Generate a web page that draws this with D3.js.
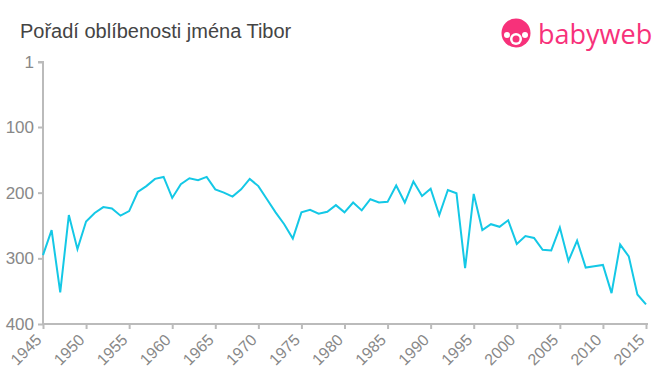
<!DOCTYPE html>
<html>
<head>
<meta charset="utf-8">
<script src="https://cdn.jsdelivr.net/npm/d3@7"></script>
<style>
  body { margin: 0; background: #fff; }
  svg { font-family: "Liberation Sans", Arial, sans-serif; }
  .title { font-size: 20px; fill: #444; }
  .axis path, .axis line { stroke: #bbb; stroke-width: 2; }
  .axis text { fill: #888; }
  .line { fill: none; stroke: #14c8e6; stroke-width: 2; }
</style>
</head>
<body>
<svg width="660" height="375"></svg>
<script>
let years = d3.range(1945, 2016)

let ranks = [
  295, 257, 352, 234, 286, 244, 231, 222, 224, 235,
  228, 199, 190, 179, 176, 208, 187, 178, 181, 176,
  195, 200, 206, 195, 179, 190, 210, 230, 248, 270,
  230, 226, 232, 229, 219, 230, 215, 227, 210, 215,
  214, 189, 215, 183, 205, 194, 234, 196, 201, 315,
  202, 257, 248, 252, 242, 278, 266, 269, 287, 288,
  253, 304, 273, 314, 312, 310, 353, 279, 297, 355,
  370,
]

let yTicks = [1, 100, 200, 300, 400]
let xTicks = d3.range(1945, 2016, 5)

const svg = d3.select('svg')

const x = d3.scaleLinear()
  .domain([1945, 2015])
  .range([43, 646])

const y = d3.scaleLinear()
  .domain([1, 400])
  .range([62, 324])

svg.append('text')
  .attr('class', 'title')
  .attr('x', 20)
  .attr('y', 38)
  .text('Pořadí oblíbenosti jména Tibor')

// y axis
const yAxis = svg.append('g')
  .attr('class', 'axis')
  .attr('transform', 'translate(43,0)')
  .call(d3.axisLeft(y).tickValues(yTicks).tickSize(5).tickFormat(d3.format('d')))
yAxis.select('.domain').attr('d', `M-5,${y(1)}H0V${y(400)}`)
yAxis.selectAll('text')
  .attr('x', -9)
  .style('font-size', '17px')

// x axis
const xAxis = svg.append('g')
  .attr('class', 'axis')
  .attr('transform', `translate(0,${y(400)})`)
  .call(d3.axisBottom(x).tickValues(xTicks).tickSize(5).tickFormat(d3.format('d')))
xAxis.select('.domain').attr('d', `M${x(1945)},0H${x(2015) + 2}`)
xAxis.selectAll('text')
  .style('font-size', '16px')
  .style('text-anchor', 'end')
  .attr('x', 0)
  .attr('y', 0)
  .attr('dy', 0)
  .attr('transform', 'translate(-1,17) rotate(-45)')

const line = d3.line()
  .x((d, i) => x(years[i]))
  .y(d => y(d))

svg.append('path')
  .datum(ranks)
  .attr('class', 'line')
  .attr('d', line)

// logo
const logo = svg.append('g').attr('transform', 'translate(516,33)')
logo.append('circle').attr('r', 14.5).attr('fill', '#f7317a')
logo.append('circle').attr('cx', 0).attr('cy', 6).attr('r', 6).attr('fill', '#fff')
logo.append('circle').attr('cx', 0).attr('cy', 6).attr('r', 3.5).attr('fill', '#f7317a')
logo.append('circle').attr('cx', -9).attr('cy', 2).attr('r', 3).attr('fill', '#fff')
logo.append('circle').attr('cx', 9).attr('cy', 2).attr('r', 3).attr('fill', '#fff')
svg.append('text')
  .attr('x', 538)
  .attr('y', 44)
  .attr('fill', '#f7317a')
  .style('font-family', '"Open Sans", sans-serif')
  .style('font-size', '27px')
  .text('babyweb')
</script>
</body>
</html>
